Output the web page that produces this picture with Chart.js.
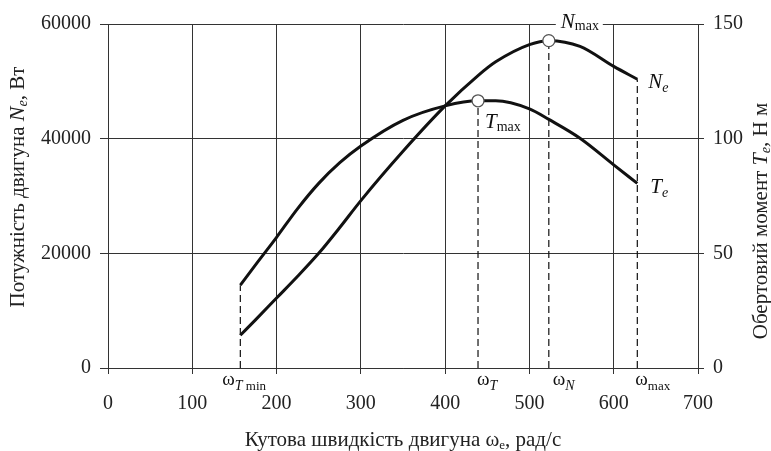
<!DOCTYPE html>
<html lang="uk">
<head>
    <meta charset="UTF-8">
    <title>Зовнішня швидкісна характеристика</title>
    <script src="https://cdn.jsdelivr.net/npm/chart.js"></script>
    <style>
        body {
            margin: 0;
            background: #fff;
        }
        canvas {
            display: block;
        }
    </style>
</head>
<body>
    <canvas id="chart" width="771" height="451"></canvas>

    <script>
        // angular speed, rad/s
        const omega = [157, 175, 200, 225, 250, 275, 300, 350, 400, 439, 460, 500, 523, 560, 600, 628];
        // torque Te, N·m (right axis)
        const torqueNm = [36.1, 45, 57, 69.5, 80.5, 89.5, 96.8, 108, 114.3, 116.5, 116.5, 113, 108.4, 100.2, 88.6, 80.5];
        // power Ne, W (left axis)
        const powerW = [5710, 8400, 12200, 16000, 20000, 24500, 29200, 37800, 45710, 51000, 53400, 56400, 57100, 56100, 52600, 50370];

        const xTicks = [0, 100, 200, 300, 400, 500, 600, 700];
        const powerTicks = [0, 20000, 40000, 60000];
        const torqueTicks = [0, 50, 100, 150];

        // indexes of the marked points: ωT min, ωT (Tmax), ωN (Nmax), ωmax
        const iMin = 0, iT = 9, iN = 12, iMax = 15;

        const SERIF = '"Liberation Serif", "DejaVu Serif", serif';
        const font = (size, style) => (style ? style + ' ' : '') + size + 'px ' + SERIF;
        const INK = '#111';
        const GRID = '#333';

        function dropLine(x, y, axis) {
            return {
                data: [{ x: x, y: 0 }, { x: x, y: y }],
                yAxisID: axis,
                borderColor: INK,
                borderWidth: 1.2,
                borderDash: [7, 4],
                pointRadius: 0,
                order: 5
            };
        }

        // text made of runs: [text, font, dy]
        function runsWidth(ctx, runs) {
            let w = 0;
            runs.forEach(r => { ctx.font = r[1]; w += ctx.measureText(r[0]).width; });
            return w;
        }
        function drawRuns(ctx, x, y, runs, center) {
            let cx = center ? x - runsWidth(ctx, runs) / 2 : x;
            runs.forEach(r => {
                ctx.font = r[1];
                ctx.fillText(r[0], cx, y + (r[2] || 0));
                cx += ctx.measureText(r[0]).width;
            });
        }

        const labelsPlugin = {
            id: 'labels',
            afterDatasetsDraw(chart) {
                const ctx = chart.ctx;
                const a = chart.chartArea;
                const { x, y, y1 } = chart.scales;
                ctx.save();
                ctx.textBaseline = 'alphabetic';

                // N max
                const nx = x.getPixelForValue(omega[iN]);
                ctx.fillStyle = '#fff';
                ctx.fillRect(nx + 7, a.top - 6, 47, 12);
                ctx.fillStyle = INK;
                drawRuns(ctx, nx + 12, a.top + 4, [['N', font(21, 'italic')], ['max', font(14), 2]]);

                // T max
                const tx = x.getPixelForValue(omega[iT]);
                const ty = y1.getPixelForValue(torqueNm[iT]);
                drawRuns(ctx, tx + 7, ty + 27, [['T', font(21, 'italic')], ['max', font(14), 3]]);

                // curve names at the end
                const ex = x.getPixelForValue(omega[iMax]);
                drawRuns(ctx, ex + 11, y.getPixelForValue(powerW[iMax]) + 9, [['N', font(21, 'italic')], ['e', font(14, 'italic'), 4]]);
                drawRuns(ctx, ex + 13, y1.getPixelForValue(torqueNm[iMax]) + 10, [['T', font(21, 'italic')], ['e', font(14, 'italic'), 4]]);

                // ω marks under the axis
                const base = a.bottom + 17;
                drawRuns(ctx, x.getPixelForValue(omega[iMin]) - 18, base, [['ω', font(19)], ['T', font(14, 'italic'), 5], [' min', font(13), 5]]);
                drawRuns(ctx, x.getPixelForValue(omega[iT]) - 1, base, [['ω', font(19)], ['T', font(14, 'italic'), 5]]);
                drawRuns(ctx, x.getPixelForValue(omega[iN]) + 4, base, [['ω', font(19)], ['N', font(14, 'italic'), 5]]);
                drawRuns(ctx, x.getPixelForValue(omega[iMax]) - 2, base, [['ω', font(19)], ['max', font(13), 5]]);

                // axis titles
                ctx.fillStyle = '#222';
                drawRuns(ctx, (a.left + a.right) / 2, chart.height - 5,
                    [['Кутова швидкість двигуна ω', font(21)], ['e', font(13), 3], [', рад/с', font(21)]], true);

                ctx.save();
                ctx.translate(24, (a.top + a.bottom) / 2 - 9);
                ctx.rotate(-Math.PI / 2);
                drawRuns(ctx, 0, 0, [['Потужність двигуна ', font(21)], ['N', font(22, 'italic')], ['e', font(14, 'italic'), 3], [', Вт', font(21)]], true);
                ctx.restore();

                ctx.save();
                ctx.translate(767, (a.top + a.bottom) / 2 + 25);
                ctx.rotate(-Math.PI / 2);
                drawRuns(ctx, 0, 0, [['Обертовий момент ', font(21)], ['T', font(22, 'italic')], ['e', font(14, 'italic'), 3], [', Н м', font(21)]], true);
                ctx.restore();

                ctx.restore();
            }
        };

        const tickFont = { family: SERIF, size: 20 };

        new Chart(document.getElementById('chart'), {
            type: 'line',
            data: {
                datasets: [
                    {
                        // N max and T max markers
                        data: [{ x: omega[iN], y: powerW[iN] }],
                        yAxisID: 'y',
                        showLine: false,
                        pointRadius: 6,
                        pointBackgroundColor: '#fff',
                        pointBorderColor: '#555',
                        pointBorderWidth: 1.3,
                        order: 0
                    },
                    {
                        data: [{ x: omega[iT], y: torqueNm[iT] }],
                        yAxisID: 'y1',
                        showLine: false,
                        pointRadius: 6,
                        pointBackgroundColor: '#fff',
                        pointBorderColor: '#555',
                        pointBorderWidth: 1.3,
                        order: 0
                    },
                    {
                        label: 'Ne',
                        data: omega.map((w, i) => ({ x: w, y: powerW[i] })),
                        yAxisID: 'y',
                        borderColor: INK,
                        borderWidth: 3,
                        pointRadius: 0,
                        cubicInterpolationMode: 'monotone',
                        order: 1
                    },
                    {
                        label: 'Te',
                        data: omega.map((w, i) => ({ x: w, y: torqueNm[i] })),
                        yAxisID: 'y1',
                        borderColor: INK,
                        borderWidth: 3,
                        pointRadius: 0,
                        cubicInterpolationMode: 'monotone',
                        order: 1
                    },
                    dropLine(omega[iMin], torqueNm[iMin], 'y1'),
                    dropLine(omega[iT], torqueNm[iT], 'y1'),
                    dropLine(omega[iN], powerW[iN], 'y'),
                    dropLine(omega[iMax], powerW[iMax], 'y')
                ]
            },
            options: {
                responsive: false,
                devicePixelRatio: 1,
                animation: false,
                layout: { padding: { top: 24, left: 0, right: 0, bottom: 0 } },
                plugins: {
                    legend: { display: false },
                    tooltip: { enabled: false }
                },
                scales: {
                    x: {
                        type: 'linear',
                        min: 0,
                        max: 700,
                        afterBuildTicks: s => { s.ticks = xTicks.map(v => ({ value: v })); },
                        ticks: { font: tickFont, color: '#222', padding: 18, maxRotation: 0, callback: v => String(v) },
                        grid: { color: GRID, lineWidth: 1, tickLength: 6 },
                        border: { color: GRID },
                        afterFit: s => { s.height = 83; }
                    },
                    y: {
                        position: 'left',
                        min: 0,
                        max: 60000,
                        afterBuildTicks: s => { s.ticks = powerTicks.map(v => ({ value: v })); },
                        ticks: { font: tickFont, color: '#222', padding: 9, callback: v => String(v) },
                        grid: { color: GRID, lineWidth: 1, tickLength: 8 },
                        border: { color: GRID },
                        afterFit: s => { s.width = 108; }
                    },
                    y1: {
                        position: 'right',
                        min: 0,
                        max: 150,
                        afterBuildTicks: s => { s.ticks = torqueTicks.map(v => ({ value: v })); },
                        ticks: { font: tickFont, color: '#222', padding: 9, callback: v => String(v) },
                        grid: { drawOnChartArea: false, color: GRID, tickLength: 6 },
                        border: { color: GRID },
                        afterFit: s => { s.width = 73; }
                    }
                }
            },
            plugins: [labelsPlugin]
        });
    </script>
</body>
</html>
